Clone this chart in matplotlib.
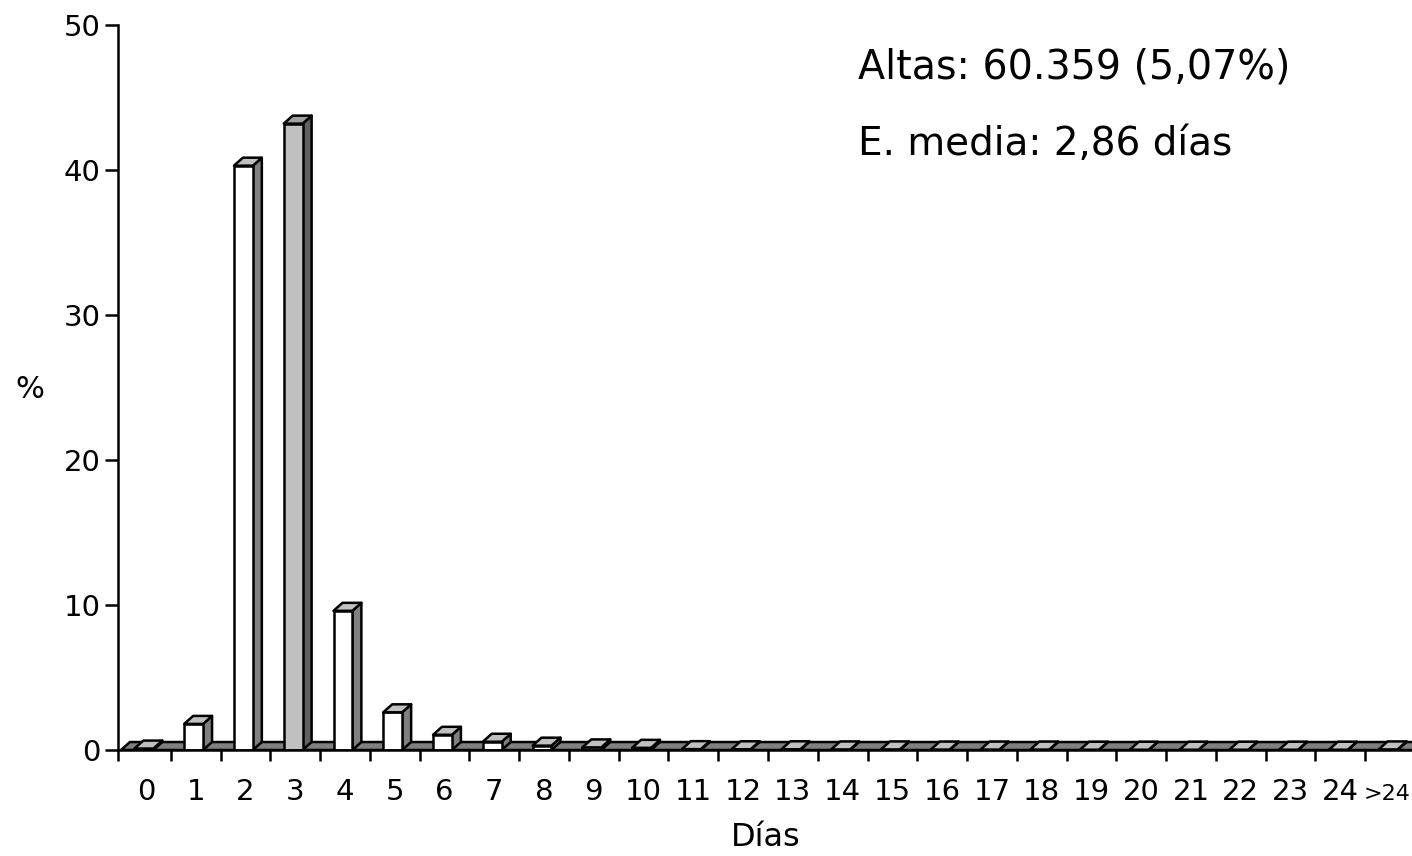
import numpy as np
import matplotlib.pyplot as plt
from matplotlib.patches import Polygon

plt.rcParams['font.family'] = ['DejaVu Sans']

# Datos: distribución de estancias (%)
dias = ['0', '1', '2', '3', '4', '5', '6', '7', '8', '9', '10', '11', '12',
        '13', '14', '15', '16', '17', '18', '19', '20', '21', '22', '23', '24', '>24']
porcentaje = [0.1, 1.8, 40.3, 43.2, 9.6, 2.6, 1.05, 0.57, 0.3, 0.18, 0.15,
              0.06, 0.05, 0.05, 0.04, 0.04, 0.03, 0.03, 0.03, 0.02, 0.02,
              0.02, 0.02, 0.02, 0.02, 0.04]
destacado = 3  # barra en gris (moda)

W, H = 1412, 856
fig = plt.figure(figsize=(W / 100, H / 100), dpi=100)
ax = fig.add_axes([118 / W, 1 - 750 / H, (1415 - 118) / W, (750 - 25) / H])

n = len(dias)
ax.set_xlim(-0.06, n)
ax.set_ylim(0, 50)

# profundidad 3D
dx, dy = 0.18, 0.55
off, bw = 0.27, 0.38
lw = 1.8

# suelo
suelo = Polygon([(0, 0), (n + 1, 0), (n + 1 + dx, dy), (dx, dy)], closed=True,
                facecolor='#808080', edgecolor='black', lw=lw, zorder=1)
ax.add_patch(suelo)

for i, v in enumerate(porcentaje):
    x0 = i + off
    x1 = x0 + bw
    if i == destacado:
        cf, ct, cs = '#c0c0c0', '#a0a0a0', '#606060'
    else:
        cf, ct, cs = 'white', '#c0c0c0', '#808080'
    lado = Polygon([(x1, 0), (x1 + dx, dy), (x1 + dx, v + dy), (x1, v)],
                   facecolor=cs, edgecolor='black', lw=lw, joinstyle='round', zorder=2)
    frente = Polygon([(x0, 0), (x1, 0), (x1, v), (x0, v)],
                     facecolor=cf, edgecolor='black', lw=lw, joinstyle='round', zorder=3)
    tapa = Polygon([(x0, v), (x1, v), (x1 + dx, v + dy), (x0 + dx, v + dy)],
                   facecolor=ct, edgecolor='black', lw=lw, joinstyle='round', zorder=4)
    for p in (lado, frente, tapa):
        ax.add_patch(p)

for s in ['top', 'right']:
    ax.spines[s].set_visible(False)
ax.spines['left'].set_linewidth(lw)
ax.spines['bottom'].set_linewidth(lw)
ax.spines['bottom'].set_zorder(5)

ax.set_yticks(np.arange(0, 51, 10))
ax.tick_params(axis='y', length=9.5, width=lw, labelsize=21, pad=3)

ax.set_xticks([-0.06] + list(range(1, n + 1)))
ax.set_xticklabels([])
ax.tick_params(axis='x', which='major', length=8, width=lw)
# la última etiqueta se ajusta a la derecha para que quepa en la figura
pos = list(np.arange(n - 1) + 0.5) + [25.9]
ax.set_xticks(pos, minor=True)
ax.set_xticklabels(dias, minor=True, va='baseline')
ax.tick_params(axis='x', which='minor', length=0, labelsize=21, pad=36)
ultima = ax.get_xticklabels(minor=True)[-1]
ultima.set_ha('right')
ultima.set_fontsize(16)

fig.text(30 / W, 1 - 390 / H, '%', fontsize=22, ha='center', va='center')
fig.text(766 / W, 1 - 838 / H, 'Días', fontsize=23, ha='center', va='center')

fig.text(858 / W, 1 - 79 / H, 'Altas: 60.359 (5,07%)', fontsize=28.5, ha='left', va='baseline')
fig.text(858 / W, 1 - 155 / H, 'E. media: 2,86 días', fontsize=28, ha='left', va='baseline')

fig.savefig('out.png', dpi=100)
